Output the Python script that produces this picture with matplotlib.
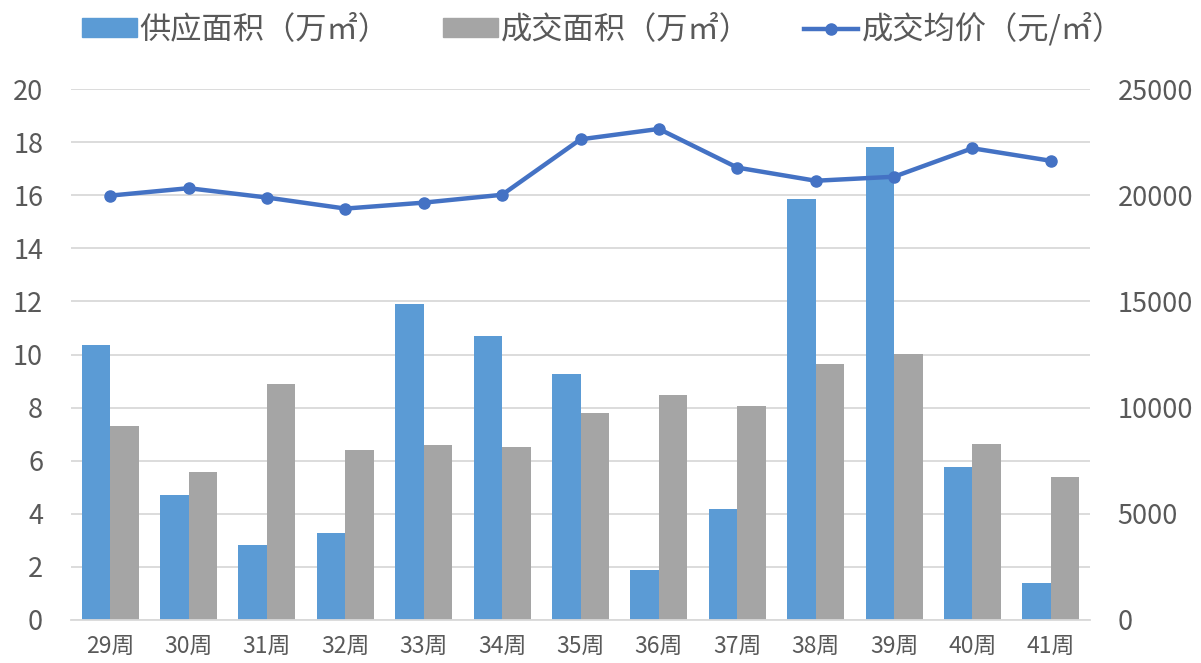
import matplotlib
matplotlib.use("Agg")
import matplotlib.pyplot as plt
import numpy as np
from matplotlib.lines import Line2D
from matplotlib.patches import Patch

plt.rcParams['font.family'] = ['Noto Sans CJK SC', 'DejaVu Sans']

weeks = ["29周", "30周", "31周", "32周", "33周", "34周", "35周",
         "36周", "37周", "38周", "39周", "40周", "41周"]
supply = [10.35, 4.72, 2.82, 3.26, 11.89, 10.70, 9.27, 1.88, 4.19, 15.86, 17.83, 5.77, 1.38]
deal = [7.29, 5.57, 8.88, 6.40, 6.58, 6.52, 7.80, 8.46, 8.05, 9.65, 10.02, 6.64, 5.37]
price = [19980, 20330, 19890, 19370, 19650, 20020, 22630, 23120, 21300, 20680, 20870, 22210, 21620]

series_names = ["供应面积（万㎡）", "成交面积（万㎡）", "成交均价（元/㎡）"]

c_blue = "#5B9BD5"
c_gray = "#A5A5A5"
c_line = "#4472C4"
txt = "#595959"

fig = plt.figure(figsize=(12.01, 6.63), dpi=100)
ax = fig.add_axes([71/1201, 1-620/663, (1090-71)/1201, (620-89)/663])
ax2 = ax.twinx()

x = np.arange(len(weeks))
w = 0.364
ax.bar(x - w/2, supply, width=w, color=c_blue, zorder=2)
ax.bar(x + w/2, deal, width=w, color=c_gray, zorder=2)

ax2.plot(x, price, color=c_line, lw=3.2, marker='o', ms=8, zorder=3)

ax.set_xlim(-0.5, len(weeks) - 0.5)
ax.set_ylim(0, 20)
ax.set_yticks(np.arange(0, 21, 2))
ax2.set_ylim(0, 25000)
ax2.set_yticks(np.arange(0, 25001, 5000))

ax.grid(axis='y', color='#D9D9D9', lw=1.3, zorder=0)
ax.set_axisbelow(True)
for a in (ax, ax2):
    for s in a.spines.values():
        s.set_visible(False)
ax.spines['bottom'].set_visible(True)
ax.spines['bottom'].set_color('#D9D9D9')
ax.spines['bottom'].set_linewidth(1.3)

ax.set_xticks(x)
ax.set_xticklabels(weeks)
ax.tick_params(axis='x', length=0, pad=11, labelsize=16.5, colors=txt)
ax.tick_params(axis='y', length=0, pad=20, labelsize=19.5, colors=txt)
ax2.tick_params(axis='y', length=0, pad=20, labelsize=19.5, colors=txt)

handles = [Patch(color=c_blue), Patch(color=c_gray),
           Line2D([0], [0], color=c_line, lw=3.2, marker='o', ms=8)]
fig.legend(handles, series_names, loc='center', bbox_to_anchor=(0.502, 1-29/663),
           ncol=3, frameon=False, fontsize=22.5, labelcolor=txt,
           handlelength=1.75, handleheight=0.55, handletextpad=0.1, columnspacing=1.7)

fig.savefig("out.png", dpi=100)
